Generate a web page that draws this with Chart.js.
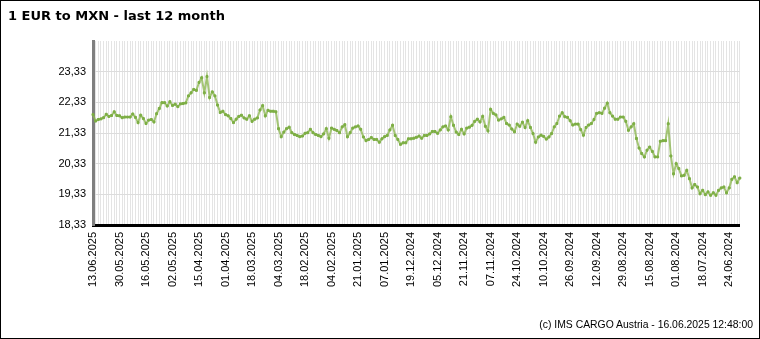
<!DOCTYPE html>
<html>
<head>
<meta charset="UTF-8">
<title>1 EUR to MXN - last 12 month</title>
<script src="https://cdn.jsdelivr.net/npm/chart.js@4.4.1/dist/chart.umd.min.js"></script>
<style>
    body { margin: 0; background: #fff; }
    #box { position: relative; width: 760px; height: 339px; overflow: hidden; }
    #chart { position: absolute; left: 0; top: 0; }
    #frame { position: absolute; left: 0; top: 0; width: 760px; height: 339px; box-sizing: border-box; border: 1px solid #000; pointer-events: none; }
    #title { position: absolute; left: 8px; top: 8px; font: bold 13px "DejaVu Sans", Verdana, sans-serif; color: #000; }
    #footer { position: absolute; right: 7px; top: 319px; font: 10.4px "Liberation Sans", Arial, sans-serif; color: #000; }
</style>
</head>
<body>
<div id="box">
    <canvas id="chart" width="760" height="339"></canvas>
    <div id="title">1 EUR to MXN - last 12 month</div>
    <div id="footer">(c) IMS CARGO Austria - 16.06.2025 12:48:00</div>
    <div id="frame"></div>
</div>

<script>
    // one label every 10 trading days, newest on the left
    var tickLabels = ['13.06.2025', '30.05.2025', '16.05.2025', '02.05.2025', '15.04.2025', '01.04.2025',
        '18.03.2025', '04.03.2025', '18.02.2025', '04.02.2025', '21.01.2025', '07.01.2025',
        '19.12.2024', '05.12.2024', '21.11.2024', '07.11.2024', '24.10.2024', '10.10.2024',
        '26.09.2024', '12.09.2024', '29.08.2024', '15.08.2024', '01.08.2024', '18.07.2024', '24.06.2024'];
    var labelStep = 10;

    // EUR -> MXN rate (newest first)
    var rates = [
        21.93, 21.72, 21.77, 21.79, 21.83, 21.94, 21.87, 21.90, 22.02, 21.90, 21.89, 21.83, 21.85, 21.85, 21.85, 21.95,
        21.84, 21.67, 21.91, 21.80, 21.64, 21.75, 21.77, 21.69, 21.96, 22.13, 22.32, 22.32, 22.21, 22.35, 22.23, 22.27,
        22.19, 22.28, 22.29, 22.31, 22.54, 22.64, 22.75, 22.72, 22.98, 23.13, 22.64, 23.17, 22.49, 22.67, 22.54, 22.24,
        22.00,
        22.04, 21.93, 21.89, 21.80, 21.67, 21.78, 21.87, 21.91, 21.82, 21.78, 21.89, 21.71, 21.78, 21.82, 22.08, 22.22,
        21.89, 22.07, 22.04, 22.04, 22.02, 21.47, 21.21, 21.36, 21.47, 21.52, 21.34, 21.28, 21.25, 21.21, 21.23, 21.32,
        21.34, 21.45, 21.34, 21.28, 21.25, 21.21, 21.30, 21.47, 21.16, 21.49, 21.45, 21.41, 21.34, 21.53, 21.60, 21.21,
        21.34, 21.49,
        21.53, 21.56, 21.45, 21.20, 21.08, 21.12, 21.18, 21.12, 21.12, 21.03, 21.14, 21.21, 21.25, 21.43, 21.58, 21.25,
        21.12, 20.96, 21.01, 21.01, 21.14, 21.14, 21.16, 21.19, 21.23, 21.16, 21.25, 21.25, 21.30, 21.38, 21.38, 21.32,
        21.43, 21.53, 21.56, 21.43, 21.86, 21.58, 21.36, 21.28, 21.45, 21.30, 21.49, 21.52, 21.58, 21.71, 21.78, 21.69,
        21.87,
        21.55, 21.40, 22.10, 21.97, 21.92, 21.75, 21.79, 21.84, 21.64, 21.59, 21.46, 21.37, 21.62, 21.55, 21.68, 21.51,
        21.73, 21.51, 21.31, 21.03, 21.20, 21.26, 21.22, 21.13, 21.20, 21.31, 21.53, 21.64, 21.88, 21.99, 21.86, 21.84,
        21.73, 21.59, 21.62, 21.62, 21.44, 21.26, 21.51, 21.59, 21.64, 21.77, 21.97, 21.99, 21.97, 22.14, 22.30, 21.99,
        21.88,
        21.78, 21.78, 21.85, 21.85, 21.71, 21.42, 21.53, 21.63, 21.15, 20.84, 20.66, 20.55, 20.77, 20.87, 20.73, 20.55,
        20.55, 21.06, 21.08, 21.08, 21.63, 20.58, 20.00, 20.33, 20.17, 19.93, 19.95, 20.11, 19.84, 19.54, 19.65, 19.57,
        19.35, 19.46, 19.32, 19.41, 19.30, 19.38, 19.30, 19.46, 19.54, 19.57, 19.38, 19.54, 19.82, 19.90, 19.71, 19.86
    ];

    var yTicks = [18.33, 19.33, 20.33, 21.33, 22.33, 23.33];
    var yMin = 18.33;
    var yMax = 24.33;

    var labels = rates.map(function (v, i) {
        return i % labelStep === 0 ? (tickLabels[i / labelStep] || '') : '';
    });

    var axisFont = { family: '"Liberation Sans", Arial, sans-serif', size: 11 };

    var chart = new Chart(document.getElementById('chart'), {
        type: 'line',
        data: {
            labels: labels,
            datasets: [{
                data: rates,
                borderColor: 'rgba(141,184,82,0.8)',
                borderWidth: 2,
                pointStyle: 'rect',
                pointRadius: 1.4,
                pointBackgroundColor: '#7dae45',
                pointBorderColor: '#7dae45',
                pointBorderWidth: 1,
                tension: 0,
                fill: false
            }]
        },
        options: {
            responsive: false,
            animation: false,
            layout: { padding: { top: 41, right: 13, bottom: 40, left: 0 } },
            plugins: {
                legend: { display: false },
                tooltip: { enabled: false }
            },
            scales: {
                x: {
                    offset: false,
                    grid: { color: '#e4e4e4', lineWidth: 1, drawTicks: false },
                    border: { color: '#000', width: 3 },
                    ticks: {
                        autoSkip: false,
                        minRotation: 90,
                        maxRotation: 90,
                        padding: 7,
                        color: '#000',
                        font: axisFont
                    },
                    afterFit: function (scale) { scale.height = 74; }
                },
                y: {
                    min: yMin,
                    max: yMax,
                    afterBuildTicks: function (scale) {
                        scale.ticks = yTicks.map(function (v) { return { value: v }; });
                    },
                    grid: { color: '#dcdcdc', lineWidth: 1, drawTicks: false },
                    border: { color: '#7f7f7f', width: 3 },
                    ticks: {
                        padding: 7,
                        color: '#000',
                        font: axisFont,
                        callback: function (v) { return Number(v).toFixed(2).replace('.', ','); }
                    },
                    afterFit: function (scale) { scale.width = 93; }
                }
            }
        }
    });
</script>
</body>
</html>
